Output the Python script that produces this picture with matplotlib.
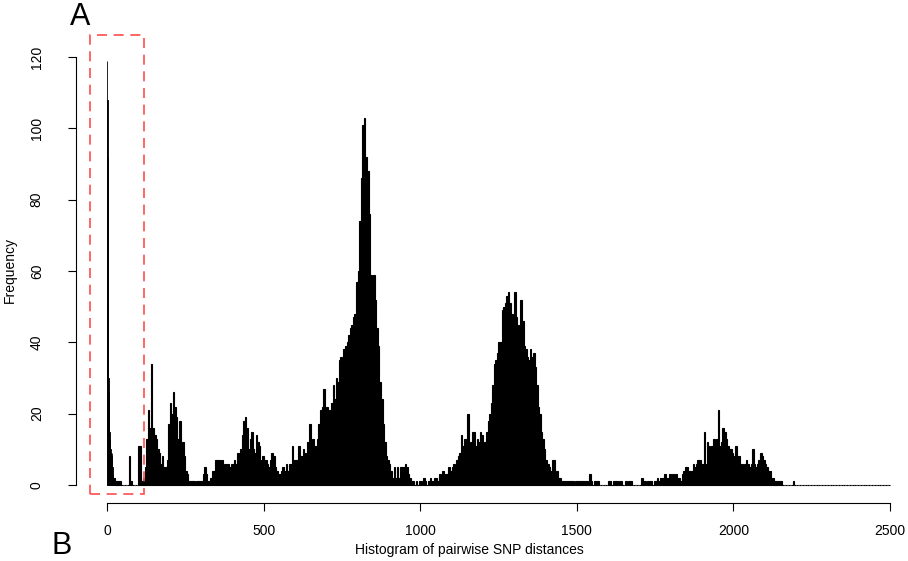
import numpy as np
import matplotlib
matplotlib.use("Agg")
import matplotlib.pyplot as plt
from matplotlib.patches import Rectangle

# ---------------- data ----------------
# distances 0..19, width-1 bins
fine_counts = [119, 108, 92, 51, 30, 26, 20, 15, 13, 12, 11, 10, 9, 9, 8, 9, 7, 5, 3, 2]

# distances 20..2499, width-5 bins (one row = 50 units)
counts_20_520 = [
    2, 1, 1, 1, 1, 0, 0, 0, 0, 0,          # 20
    8, 1, 0, 0, 0, 0, 11, 11, 1, 2,        # 70
    5, 13, 21, 16, 34, 16, 14, 13, 10, 9,  # 120
    6, 8, 5, 5, 7, 17, 23, 20, 26, 22,     # 170
    19, 13, 18, 10, 12, 8, 4, 3, 1, 1,     # 220
    1, 1, 0, 1, 1, 1, 1, 3, 5, 3,          # 270
    1, 1, 2, 4, 4, 7, 7, 7, 6, 7,          # 320
    5, 6, 6, 6, 5, 6, 6, 7, 6, 9,          # 370
    6, 10, 14, 18, 19, 16, 10, 13, 15, 10, # 420
    9, 14, 12, 11, 7, 8, 7, 7, 6, 5,       # 470
]
counts_520_1020 = [
    7, 9, 8, 5, 4, 3, 3, 4, 5, 4,          # 520
    6, 4, 6, 6, 11, 7, 7, 7, 11, 8,        # 570
    8, 10, 9, 8, 12, 17, 9, 13, 11, 11,    # 620
    13, 17, 21, 22, 27, 21, 22, 18, 21, 23,  # 670
    28, 24, 30, 29, 35, 36, 32, 38, 39, 40,  # 720
    42, 44, 45, 47, 48, 57, 60, 74, 86, 101, # 770
    103, 92, 88, 76, 59, 55, 59, 52, 44, 39, # 820
    29, 24, 17, 12, 8, 7, 6, 4, 2, 5,        # 870
    2, 5, 2, 5, 5, 5, 6, 5, 3, 2,            # 920
    1, 1, 0, 1, 0, 1, 1, 0, 2, 1,            # 970
]
counts_1020_1520 = [
    0, 1, 2, 1, 1, 2, 2, 1, 3, 2,            # 1020
    4, 2, 3, 3, 5, 4, 5, 6, 5, 7,            # 1070
    8, 9, 14, 11, 13, 11, 20, 11, 12, 15,    # 1120
    15, 11, 13, 12, 15, 14, 10, 12, 15, 18,  # 1170
    20, 23, 28, 34, 35, 37, 40, 40, 49, 50,  # 1220
    51, 53, 54, 51, 48, 47, 54, 47, 45, 43,  # 1270
    52, 46, 39, 38, 36, 35, 38, 36, 37, 33,  # 1320
    28, 22, 20, 15, 13, 10, 7, 6, 5, 4,      # 1370
    7, 7, 3, 4, 2, 2, 1, 1, 1, 1,            # 1420
    1, 1, 1, 1, 0, 1, 1, 1, 1, 1,            # 1470
]
counts_1520_2020 = [
    1, 1, 1, 0, 3, 1, 0, 1, 1, 1,            # 1520
    0, 0, 0, 0, 0, 0, 1, 1, 0, 1,            # 1570
    1, 1, 0, 1, 1, 0, 0, 1, 0, 1,            # 1620
    1, 0, 0, 0, 0, 0, 0, 2, 1, 1,            # 1670
    0, 1, 1, 1, 0, 1, 1, 2, 1, 2,            # 1720
    2, 2, 3, 2, 1, 3, 1, 3, 1, 3,            # 1770
    2, 2, 1, 3, 4, 5, 5, 4, 4, 4,            # 1820
    6, 5, 6, 7, 7, 6, 6, 15, 6, 12,          # 1870
    11, 9, 11, 13, 12, 13, 21, 11, 12, 16,   # 1920
    15, 13, 11, 10, 10, 9, 8, 11, 8, 8,      # 1970
]
counts_2020_2500 = [
    6, 6, 5, 6, 7, 6, 5, 6, 10, 6,           # 2020
    5, 6, 7, 9, 8, 7, 6, 5, 4, 4,            # 2070
    2, 2, 1, 1, 1, 1, 1, 0, 0, 0,            # 2120
    0, 0, 0, 0, 1, 0, 0, 0, 0, 0,            # 2170
    0, 0, 0, 0, 0, 0, 0, 0, 0, 0,            # 2220
    0, 0, 0, 0, 0, 0, 0, 0, 0, 0,            # 2270
    0, 0, 0, 0, 0, 0, 0, 0, 0, 0,            # 2320
    0, 0, 0, 0, 0, 0, 0, 0, 0, 0,            # 2370
    0, 0, 0, 0, 0, 0, 0, 0, 0, 0,            # 2420
    0, 0, 0, 0, 0, 0,                        # 2470
]

x_ticks = [0, 500, 1000, 1500, 2000, 2500]
y_ticks = [0, 20, 40, 60, 80, 100, 120]
x_label = "Histogram of pairwise SNP distances"
y_label = "Frequency"

# ---------------- figure ----------------
W, H = 908, 561
DPI = 100
plt.rcParams['font.family'] = ['Liberation Sans', 'DejaVu Sans']
fig = plt.figure(figsize=(W / DPI, H / DPI), dpi=DPI)

# axes placed in pixel coordinates
ax_l, ax_r, ax_b, ax_t = 75.7, 905, 503, 30
ax = fig.add_axes([ax_l / W, 1 - ax_b / H, (ax_r - ax_l) / W, (ax_b - ax_t) / H])

px_per_x = (890 - 107) / 2500.0
px_per_y = (485 - 57) / 120.0
ax.set_xlim((ax_l - 107) / px_per_x, (ax_r - 107) / px_per_x)
ax.set_ylim((485 - ax_b) / px_per_y, (485 - ax_t) / px_per_y)

fine = np.array(fine_counts, dtype=float)
coarse = np.array(counts_20_520 + counts_520_1020 + counts_1020_1520
                  + counts_1520_2020 + counts_2020_2500, dtype=float)
fine_left = np.arange(0, len(fine))
coarse_left = 20 + 5 * np.arange(len(coarse))

ax.bar(fine_left, fine, width=1, align='edge', color='black',
       edgecolor='black', linewidth=0.6)
ax.bar(coarse_left, coarse, width=5, align='edge', color='black',
       edgecolor='black', linewidth=0.8)

# axes styling (R-like)
for s in ['top', 'right']:
    ax.spines[s].set_visible(False)
ax.spines['left'].set_bounds(y_ticks[0], y_ticks[-1])
ax.spines['bottom'].set_bounds(x_ticks[0], x_ticks[-1])
ax.spines['left'].set_linewidth(0.8)
ax.spines['bottom'].set_linewidth(0.8)
ax.set_xticks(x_ticks)
ax.set_yticks(y_ticks)
ax.set_xticklabels([str(v) for v in x_ticks])
ax.set_yticklabels([str(v) for v in y_ticks], rotation=90, va='center')
ax.tick_params(axis='both', direction='out', length=6, width=0.8,
               labelsize=10, colors='black')
ax.tick_params(axis='x', pad=9)
ax.tick_params(axis='y', pad=17)

# labels
fig.text(10 / W, 1 - 270 / H, y_label, rotation=90, ha='center', va='center', fontsize=10)
fig.text(469 / W, 1 - 550 / H, x_label, ha='center', va='center', fontsize=10)
fig.text(80 / W, 1 - 17 / H, "A", ha='center', va='center', fontsize=22)
fig.text(62 / W, 1 - 546 / H, "B", ha='center', va='center', fontsize=22)

# red dashed highlight box
x0 = (90 - 107) / px_per_x
x1 = (144 - 107) / px_per_x
y0 = (485 - 494) / px_per_y
y1 = (485 - 35) / px_per_y
rect = Rectangle((x0, y0), x1 - x0, y1 - y0, fill=False, edgecolor='#ff4d4d',
                 linewidth=1.2, linestyle=(0, (6, 4)), clip_on=False, zorder=5)
ax.add_patch(rect)

fig.savefig("out.png", dpi=DPI)
